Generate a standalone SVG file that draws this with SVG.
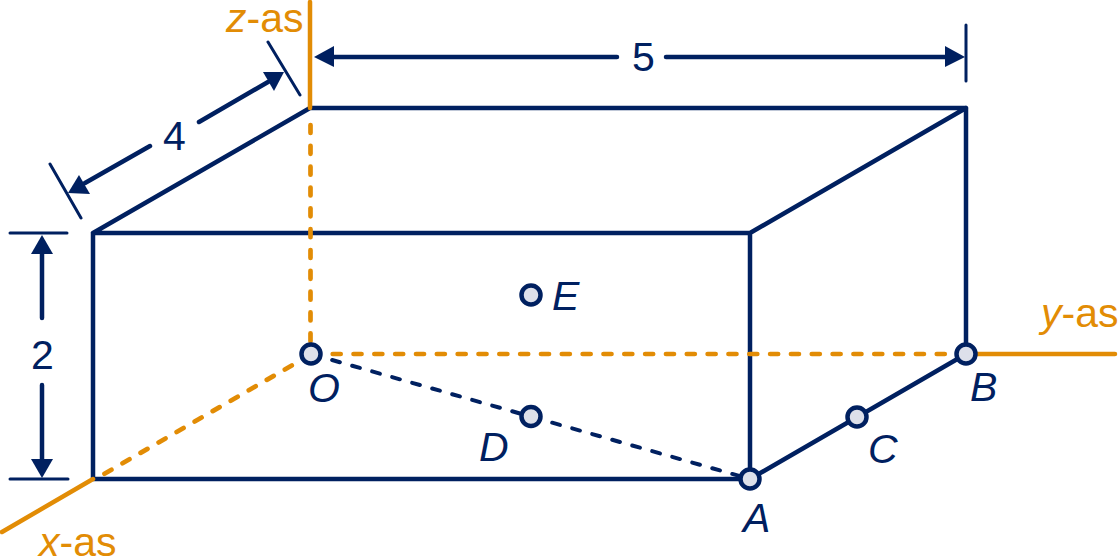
<svg xmlns="http://www.w3.org/2000/svg" width="1118" height="558" viewBox="0 0 1118 558">
<style>
.n{stroke:#002060;stroke-width:4.5;fill:none;stroke-linecap:round;stroke-linejoin:round}
.t{stroke:#002060;stroke-width:3;fill:none;stroke-linecap:round}
.d{stroke:#002060;stroke-width:4.5;fill:none;stroke-linecap:round}
.nd{stroke:#002060;stroke-width:4;fill:none;stroke-linecap:round;stroke-dasharray:8 12.8;stroke-dashoffset:-1.2}
.o{stroke:#e28c05;stroke-width:4.5;fill:none;stroke-linecap:round}
.od{stroke:#e28c05;stroke-width:4.7;fill:none;stroke-linecap:round;stroke-dasharray:8 12.83}
.h{fill:#002060;stroke:none}
.p{fill:#dde0ea;stroke:#002060;stroke-width:4.5}
text{font-family:"Liberation Sans",Arial,sans-serif;font-size:41px}
.tn{fill:#002060}
.to{fill:#e28c05}
.i{font-style:italic}
</style>
<g id="connectors">
<path class="n" d="M93 479V233H750V479M93 233L310 108H966V354M750 233L966 108M93 479H750M750 479L966 354"/>
<path class="nd" d="M311 354L750 479"/>
<path class="o" d="M310 2V108M2 532L93 479M975 354H1115"/>
<path class="od" d="M310.5 125V344M104.5 473.7L296 363M332.7 354H946"/>
<path class="t" d="M966 25V81M268 42L300 95M50 164L81 218M10 233H67M10 479H68"/>
<path class="d" d="M334 57H617M666 57H946M199 122L268 82M150 146L85 183M42 254V318M42 385V460"/>
<polygon class="h" points="314,57 334,46 334,67"/>
<polygon class="h" points="965,57 945,46 945,67"/>
<polygon class="h" points="284,72 263,72 274,91"/>
<polygon class="h" points="68,193 90,194 79,175"/>
<polygon class="h" points="42,235 31,254 53,254"/>
<polygon class="h" points="42,478 31,459 53,459"/>
</g>
<g id="node-O"><circle class="p" cx="311" cy="354" r="9.5"/><text class="tn i" x="308" y="402">O</text></g>
<g id="node-A"><circle class="p" cx="750" cy="479" r="9.5"/><text class="tn i" x="743" y="532">A</text></g>
<g id="node-B"><circle class="p" cx="966" cy="354" r="9.5"/><text class="tn i" x="970" y="401">B</text></g>
<g id="node-C"><circle class="p" cx="857" cy="417" r="9.5"/><text class="tn i" x="868" y="463">C</text></g>
<g id="node-D"><circle class="p" cx="531" cy="416.5" r="9.5"/><text class="tn i" x="479" y="461">D</text></g>
<g id="node-E"><circle class="p" cx="531" cy="295" r="9.5"/><text class="tn i" x="552" y="310">E</text></g>
<g id="labels">
<text class="to" x="226" y="32"><tspan class="i">z</tspan>-as</text>
<text class="to" x="39" y="556"><tspan class="i">x</tspan>-as</text>
<text class="to" x="1041" y="327"><tspan class="i">y</tspan>-as</text>
<text class="tn" x="632" y="71">5</text>
<text class="tn" x="163" y="150">4</text>
<text class="tn" x="31" y="369">2</text>
</g>
</svg>
